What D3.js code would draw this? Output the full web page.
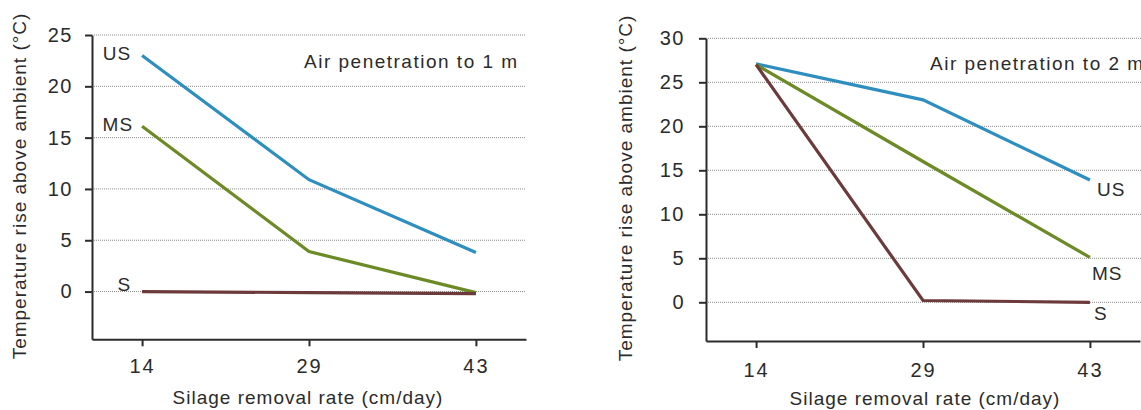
<!DOCTYPE html>
<html>
<head>
<meta charset="utf-8">
<script src="https://cdn.jsdelivr.net/npm/d3@7"></script>
<style>
  html, body { margin: 0; padding: 0; background: #fff; }
  svg text { font-family: "Liberation Sans", Arial, sans-serif; fill: #2b2b2b; letter-spacing: 1px; }
</style>
</head>
<body>
<svg id="chart" width="1141" height="410"></svg>
<script>
// ---- data ----
const categories = ["14", "29", "43"];
const seriesNames = ["US", "MS", "S"];
const colors = ["#2e8ec0", "#6c8a25", "#6d3a3b"];

// Panel 1: air penetration to 1 m
const panel1US = [23.0, 10.9, 3.8];
const panel1MS = [16.1, 3.9, -0.1];
const panel1S  = [0.0, -0.1, -0.2];
const panel1Ticks = [0, 5, 10, 15, 20, 25];
const panel1Title = "Air penetration to 1 m";

// Panel 2: air penetration to 2 m
const panel2US = [27.1, 23.0, 13.9];
const panel2MS = [27.0, 16.0, 5.1];
const panel2S  = [27.0, 0.2, 0.0];
const panel2Ticks = [0, 5, 10, 15, 20, 25, 30];
const panel2Title = "Air penetration to 2 m";

const yTitle = "Temperature rise above ambient (°C)";
const xTitle = "Silage removal rate (cm/day)";

const svg = d3.select("#chart");

function drawPanel(cfg) {
  const g = svg.append("g");
  const x = d3.scalePoint().domain(categories).range([cfg.x0, cfg.x1]).padding(0.3);
  const y = d3.scaleLinear().domain([cfg.yMin, d3.max(cfg.ticks)]).range([cfg.yBottom, cfg.yTop]);

  // gridlines
  g.append("g").selectAll("line").data(cfg.ticks).join("line")
    .attr("x1", cfg.x0).attr("x2", cfg.gridEnd)
    .attr("y1", d => y(d)).attr("y2", d => y(d))
    .attr("stroke", "#8a8a8a").attr("stroke-width", 1)
    .attr("stroke-dasharray", "1,1");

  // y axis
  const ya = g.append("g").attr("transform", `translate(${cfg.x0},0)`)
    .call(d3.axisLeft(y).tickValues(cfg.ticks).tickSize(7).tickSizeOuter(0).tickPadding(cfg.yPad).tickFormat(d3.format("d")));
  ya.select(".domain").attr("stroke", "#2b2b2b").attr("stroke-width", 2);
  ya.selectAll(".tick line").attr("stroke", "#2b2b2b").attr("stroke-width", 2);
  ya.selectAll(".tick text").style("font-size", "20px").style("letter-spacing", "1.5px").attr("fill", "#2b2b2b");

  // x axis
  const xa = g.append("g").attr("transform", `translate(0,${cfg.yBottom})`)
    .call(d3.axisBottom(x).tickSize(7).tickSizeOuter(0));
  xa.select(".domain").attr("stroke", "#2b2b2b").attr("stroke-width", 2);
  xa.selectAll(".tick line").attr("stroke", "#2b2b2b").attr("stroke-width", 2);
  xa.selectAll(".tick text").style("font-size", "20px").style("letter-spacing", "2px")
    .attr("dy", null).attr("y", cfg.xLabelY).attr("fill", "#2b2b2b");

  // lines
  const line = d3.line().x((d, i) => x(categories[i])).y(d => y(d));
  cfg.series.forEach((vals, k) => {
    g.append("path").datum(vals).attr("d", line)
      .attr("fill", "none").attr("stroke", colors[k]).attr("stroke-width", 3.2);
  });

  // series labels
  cfg.series.forEach((vals, k) => {
    const idx = cfg.labelAt;
    const off = cfg.labelOffsets[k];
    g.append("text")
      .attr("x", x(categories[idx]) + off[0])
      .attr("y", y(vals[idx]) + off[1])
      .attr("text-anchor", cfg.labelAnchor)
      .style("font-size", "19px")
      .text(seriesNames[k]);
  });

  // panel title
  g.append("text").attr("x", cfg.titleX).attr("y", cfg.titleY)
    .style("font-size", "19px").style("letter-spacing", "1.5px").text(cfg.title);

  // y title
  g.append("text")
    .attr("transform", `translate(${cfg.yTitleX},${cfg.yTitleY}) rotate(-90)`)
    .attr("text-anchor", "middle").style("font-size", "19px").text(yTitle);

  // x title
  g.append("text").attr("x", x("29") + cfg.xTitleDx).attr("y", cfg.xTitleY)
    .attr("text-anchor", "middle").style("font-size", "19px").text(xTitle);
}

drawPanel({
  x0: 92, x1: 526, gridEnd: 526, yMin: -4.65, yBottom: 339.3, yTop: 35,
  ticks: panel1Ticks, yPad: 12, xLabelY: 34,
  series: [panel1US, panel1MS, panel1S],
  labelAt: 0, labelAnchor: "end",
  labelOffsets: [[-11, 4.5], [-9, 5], [-11, -1]],
  title: panel1Title, titleX: 304, titleY: 68,
  yTitleX: 26, yTitleY: 186,
  xTitleDx: -1, xTitleY: 404
});

drawPanel({
  x0: 706, x1: 1140, gridEnd: 1141, yMin: -4.4, yBottom: 341, yTop: 38.3,
  ticks: panel2Ticks, yPad: 14, xLabelY: 36,
  series: [panel2US, panel2MS, panel2S],
  labelAt: 2, labelAnchor: "start",
  labelOffsets: [[7, 16.5], [2, 23], [4, 18]],
  title: panel2Title, titleX: 930, titleY: 70,
  yTitleX: 632, yTitleY: 188,
  xTitleDx: 2, xTitleY: 405
});
</script>
</body>
</html>
